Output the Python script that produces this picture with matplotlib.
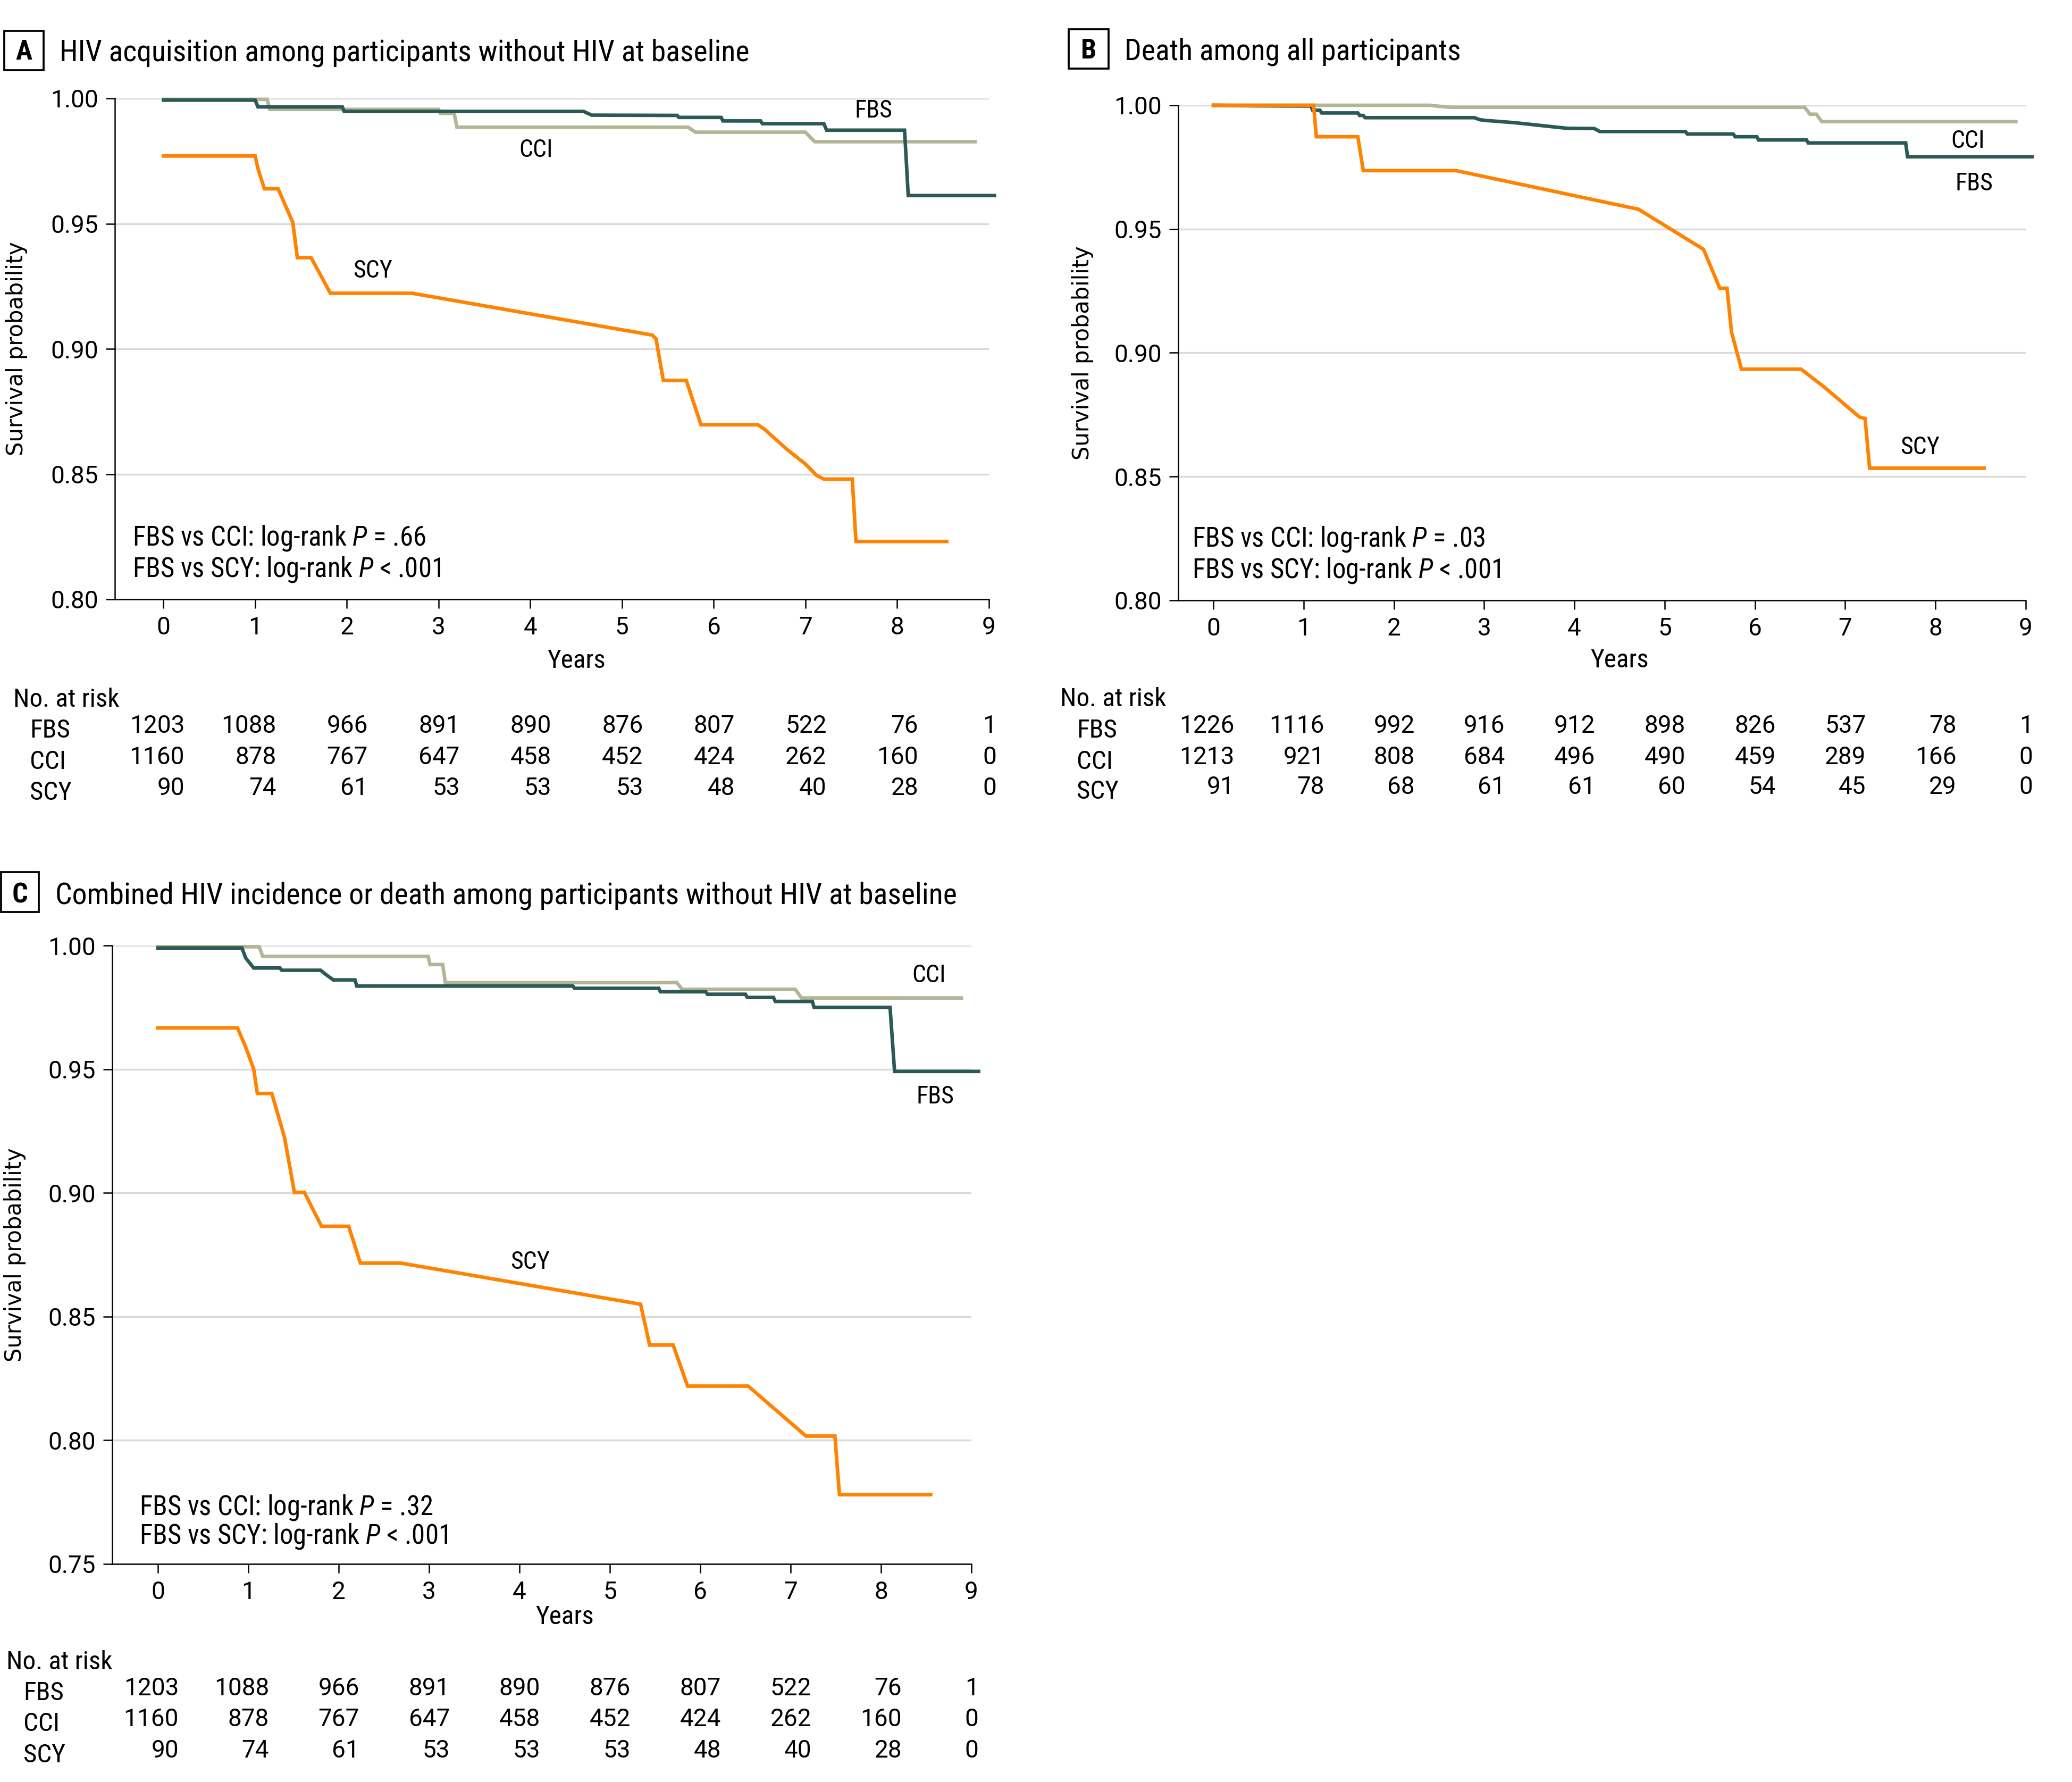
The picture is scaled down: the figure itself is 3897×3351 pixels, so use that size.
import matplotlib
matplotlib.use("Agg")
import matplotlib.pyplot as plt
from matplotlib import font_manager
from matplotlib.patches import Rectangle
from matplotlib.transforms import blended_transform_factory

# pick a narrow font if one is installed
names = {f.name for f in font_manager.fontManager.ttflist}
cond = next((n for n in ["Roboto Condensed", "Liberation Sans Narrow", "Open Sans Condensed"] if n in names), "DejaVu Sans")
num_font = "Roboto" if "Roboto" in names else "DejaVu Sans"
plt.rcParams["font.family"] = [cond, "DejaVu Sans"]
if cond == "DejaVu Sans":
    plt.rcParams["font.stretch"] = "condensed"
plt.rcParams["mathtext.fontset"] = "custom"
plt.rcParams["mathtext.rm"] = cond
plt.rcParams["mathtext.it"] = cond + ":italic"

FBS_C = "#2b5a56"
CCI_C = "#b3b597"
SCY_C = "#ff8200"

years = [0, 1, 2, 3, 4, 5, 6, 7, 8, 9]
groups = ["FBS", "CCI", "SCY"]

# ---- panel A: HIV acquisition
a_fbs_t = [0, 1.0, 1.03, 1.95, 1.97, 4.58, 4.67, 5.60, 5.62, 6.08, 6.10, 6.51, 6.53, 7.20, 7.23, 8.08, 8.12, 9.06]
a_fbs_s = [0.9993, 0.9993, 0.9966, 0.9966, 0.9948, 0.9948, 0.9933, 0.9932, 0.9924, 0.9924, 0.991, 0.991, 0.9899, 0.9899, 0.9873, 0.9873, 0.9612, 0.9612]
a_cci_t = [0, 1.13, 1.16, 3.0, 3.02, 3.17, 3.2, 5.72, 5.8, 7.0, 7.1, 8.85]
a_cci_s = [0.9996, 0.9996, 0.9956, 0.9956, 0.994, 0.994, 0.9885, 0.9885, 0.9865, 0.9865, 0.9827, 0.9827]
a_scy_t = [0, 1.0, 1.03, 1.1, 1.25, 1.41, 1.46, 1.61, 1.82, 2.71, 5.33, 5.37, 5.45, 5.70, 5.86, 6.48, 6.55, 6.8, 7.0, 7.12, 7.2, 7.51, 7.55, 8.54]
a_scy_s = [0.977, 0.977, 0.972, 0.9639, 0.9639, 0.9505, 0.9364, 0.9364, 0.9222, 0.9222, 0.9055, 0.904, 0.8874, 0.8874, 0.8697, 0.8697, 0.868, 0.8598, 0.854, 0.8495, 0.848, 0.848, 0.8231, 0.8231]
a_risk = {"FBS": [1203, 1088, 966, 891, 890, 876, 807, 522, 76, 1],
          "CCI": [1160, 878, 767, 647, 458, 452, 424, 262, 160, 0],
          "SCY": [90, 74, 61, 53, 53, 53, 48, 40, 28, 0]}

# ---- panel B: death
b_fbs_t = [0, 0.5, 1.0, 1.08, 1.1, 1.18, 1.2, 1.6, 1.62, 1.66, 1.68, 2.89, 2.95, 3.01, 3.33, 3.92, 4.22, 4.28, 5.23, 5.25, 5.76, 5.78, 6.02, 6.04, 6.57, 6.59, 7.67, 7.69, 9.07]
b_fbs_s = [1.0, 0.9998, 0.9997, 0.9997, 0.998, 0.998, 0.9969, 0.9969, 0.9959, 0.9959, 0.995, 0.995, 0.9942, 0.9939, 0.993, 0.9907, 0.9906, 0.9894, 0.9894, 0.9884, 0.9884, 0.9873, 0.9873, 0.986, 0.986, 0.9848, 0.9848, 0.9792, 0.9792]
b_cci_t = [0, 2.4, 2.5, 2.63, 6.55, 6.61, 6.68, 6.74, 8.89]
b_cci_s = [1.0, 1.0, 0.9996, 0.9992, 0.9992, 0.9964, 0.9964, 0.9934, 0.9934]
b_scy_t = [0, 1.11, 1.14, 1.6, 1.66, 2.69, 4.71, 5.43, 5.61, 5.69, 5.74, 5.85, 6.51, 6.76, 7.16, 7.22, 7.27, 8.54]
b_scy_s = [1.0, 1.0, 0.9873, 0.9873, 0.9736, 0.9736, 0.958, 0.9418, 0.9261, 0.9261, 0.9084, 0.8934, 0.8934, 0.8864, 0.874, 0.8735, 0.8534, 0.8534]
b_risk = {"FBS": [1226, 1116, 992, 916, 912, 898, 826, 537, 78, 1],
          "CCI": [1213, 921, 808, 684, 496, 490, 459, 289, 166, 0],
          "SCY": [91, 78, 68, 61, 61, 60, 54, 45, 29, 0]}

# ---- panel C: HIV or death
c_fbs_t = [0, 0.93, 0.97, 1.06, 1.35, 1.37, 1.8, 1.85, 1.94, 2.18, 2.2, 4.59, 4.61, 5.54, 5.56, 6.06, 6.08, 6.5, 6.52, 6.81, 6.83, 7.24, 7.26, 8.1, 8.15, 9.08]
c_fbs_s = [0.999, 0.999, 0.995, 0.9909, 0.9909, 0.99, 0.99, 0.9885, 0.9861, 0.9861, 0.9836, 0.9836, 0.9827, 0.9827, 0.9813, 0.9813, 0.9803, 0.9803, 0.979, 0.979, 0.9774, 0.9774, 0.975, 0.975, 0.9491, 0.9491]
c_cci_t = [0, 1.12, 1.16, 2.99, 3.01, 3.15, 3.18, 5.74, 5.8, 7.05, 7.12, 8.89]
c_cci_s = [0.9995, 0.9995, 0.9956, 0.9956, 0.9923, 0.9923, 0.985, 0.985, 0.9823, 0.9823, 0.9788, 0.9788]
c_scy_t = [0, 0.88, 0.97, 1.06, 1.1, 1.26, 1.4, 1.51, 1.62, 1.81, 2.11, 2.24, 2.69, 5.34, 5.44, 5.70, 5.86, 6.53, 7.17, 7.49, 7.54, 8.55]
c_scy_s = [0.9667, 0.9667, 0.959, 0.95, 0.9402, 0.9402, 0.9225, 0.9002, 0.9002, 0.8865, 0.8865, 0.8716, 0.8716, 0.855, 0.8385, 0.8385, 0.8219, 0.8219, 0.8017, 0.8017, 0.778, 0.778]
c_risk = a_risk

W, H = 3897, 3351
fig = plt.figure(figsize=(W / 300, H / 300), dpi=300)


def fy(py):
    return 1 - py / H


def panel(px_left, px_right, px_top, px_bot, xmin, ymin, yticks, curves, labels, pvals,
          letter, title, box, title_x, base, risk, rows):
    ax = fig.add_axes([px_left / W, fy(px_bot), (px_right - px_left) / W, (px_bot - px_top) / H])
    # CCI below FBS, SCY on top
    for (t, s), col, z in zip(curves, [FBS_C, CCI_C, SCY_C], [4, 3, 5]):
        ax.plot(t, s, color=col, lw=1.6, clip_on=False, solid_joinstyle="miter", zorder=z)
    ax.set_xlim(xmin, 9)
    ax.set_ylim(ymin, 1.0)
    ax.set_xticks(years)
    ax.set_yticks(yticks)
    ax.set_yticklabels(["%.2f" % v for v in yticks])
    ax.tick_params(labelsize=11, length=4, width=0.6, pad=3.5, labelfontfamily=num_font)
    ax.grid(axis="y", color="#d9d9d9", lw=0.8, zorder=0)
    for sp in ["top", "right"]:
        ax.spines[sp].set_visible(False)
    for sp in ["left", "bottom"]:
        ax.spines[sp].set_linewidth(0.6)
    ax.set_ylabel("Survival probability", family="DejaVu Sans", fontsize=10)
    ax.yaxis.set_label_coords(-0.1, 0.5)

    for name, (x, y) in zip(groups, labels):
        ax.text(x, y, name, fontsize=11, ha="center", va="center")
    ax.text(pvals[0], pvals[1], "FBS vs CCI: log-rank $P$ = " + pvals[3], fontsize=12.2, va="baseline")
    ax.text(pvals[0], pvals[2], "FBS vs SCY: log-rank $P$ < .001", fontsize=12.2, va="baseline")

    # header with boxed letter
    bx0, by0, bx1, by1 = box
    fig.patches.append(Rectangle((bx0 / W, fy(by1)), (bx1 - bx0) / W, (by1 - by0) / H,
                                 transform=fig.transFigure, fill=False, ec="black", lw=0.9))
    fig.text((bx0 + bx1) / 2 / W, fy(base - 2), letter, fontsize=12.5, weight="bold",
             ha="center", va="baseline")
    fig.text(title_x / W, fy(base), title, fontsize=13.4, va="baseline")

    # years label and number at risk table
    tr = blended_transform_factory(ax.transData, fig.transFigure)
    yr, nar, r1, r2, r3, lab_x, nar_x = rows
    ax.text(4.5, fy(yr), "Years", transform=tr, fontsize=11.8, ha="center", va="baseline")
    fig.text(nar_x / W, fy(nar), "No. at risk", fontsize=11.8, va="baseline")
    for name, ry in zip(groups, [r1, r2, r3]):
        fig.text(lab_x / W, fy(ry + 9), name, fontsize=11.8, va="baseline")
        for t, n in zip(years, risk[name]):
            xoff = 0.08 if t == 9 else 0.23
            ax.text(t + xoff, fy(ry), str(n), transform=tr, fontsize=11, family=num_font,
                    ha="right", va="baseline")
    return ax


panel(216, 1860, 185, 1127, -0.53, 0.80, [0.80, 0.85, 0.90, 0.95, 1.00],
      [(a_fbs_t, a_fbs_s), (a_cci_t, a_cci_s), (a_scy_t, a_scy_s)],
      [(7.74, 0.9951), (4.06, 0.9793), (2.28, 0.9313)],
      (-0.34, 0.8216, 0.8091, ".66"),
      "A", "HIV acquisition among participants without HIV at baseline",
      (8, 58, 82, 132), 112, 114, a_risk,
      (1256, 1329, 1378, 1437, 1495, 56, 25))

panel(2216, 3810, 198, 1129, -0.39, 0.80, [0.80, 0.85, 0.90, 0.95, 1.00],
      [(b_fbs_t, b_fbs_s), (b_cci_t, b_cci_s), (b_scy_t, b_scy_s)],
      [(8.43, 0.9684), (8.36, 0.9856), (7.83, 0.8619)],
      (-0.236, 0.8217, 0.8092, ".03"),
      "B", "Death among all participants",
      (2010, 55, 2085, 129), 2115, 112, b_risk,
      (1255, 1328, 1378, 1437, 1493, 2025, 1994))

panel(211, 1827, 1778, 2941, -0.506, 0.75, [0.75, 0.80, 0.85, 0.90, 0.95, 1.00],
      [(c_fbs_t, c_fbs_s), (c_cci_t, c_cci_s), (c_scy_t, c_scy_s)],
      [(8.6, 0.939), (8.53, 0.988), (4.12, 0.872)],
      (-0.206, 0.7698, 0.7582, ".32"),
      "C", "Combined HIV incidence or death among participants without HIV at baseline",
      (2, 1640, 73, 1715), 104, 1699, c_risk,
      (3054, 3139, 3188, 3246, 3305, 44, 12))

fig.savefig("out.png", dpi=300, facecolor="white")
